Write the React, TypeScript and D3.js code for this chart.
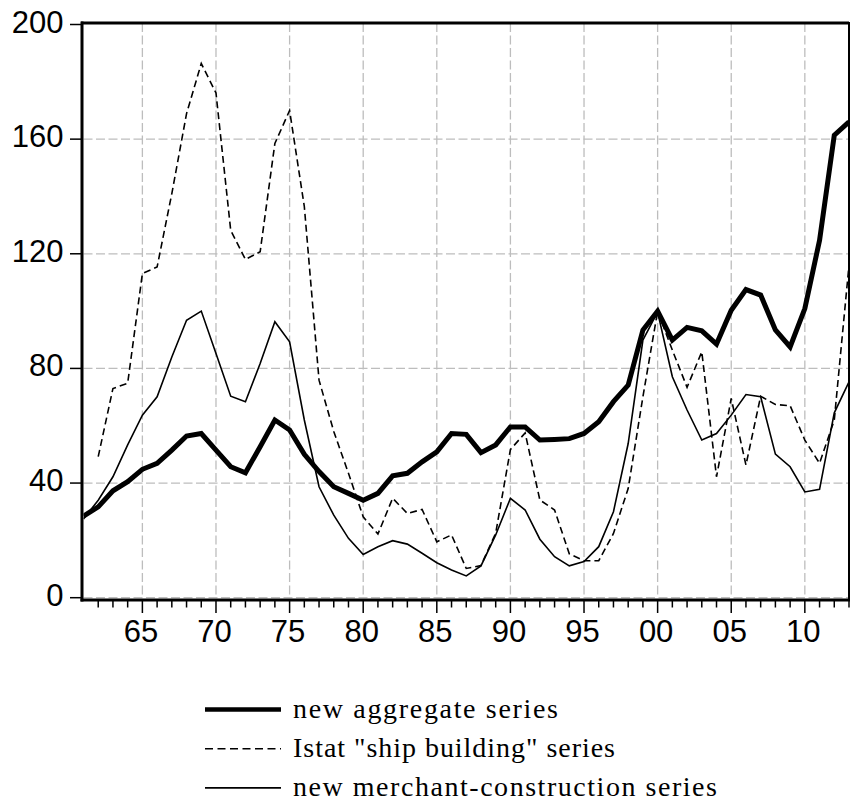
import React from 'react';
import * as d3 from 'd3';

const years = d3.range(1961, 2014);

const aggregate = [
  28.5, 31.7, 37.3, 40.5, 44.8, 46.9, 51.5, 56.4, 57.3, 51.5,
  45.7, 43.6, 52.7, 62, 58.5, 50, 44, 38.7, 36.4, 34,
  36.4, 42.5, 43.4, 47.4, 50.9, 57.3, 57, 50.6, 53.3, 59.6,
  59.6, 55, 55.2, 55.5, 57.3, 61.4, 68.4, 74.2, 93.4, 100,
  89.9, 94.3, 93.1, 88.5, 100.3, 107.5, 105.6, 93.4, 87.5, 100.9,
  124.7, 161.4, 166,
];

const istat: (number | null)[] = [
  null, 49.2, 73, 74.8, 113.1, 115.4, 141, 168.9, 186.4, 176.1,
  128.2, 118, 120.7, 158.5, 170, 136.5, 75.9, 58, 43.4, 28.2,
  22.2, 34.7, 29.4, 30.8, 19.5, 21.9, 10.2, 11.2, 22.5, 51.7,
  57.5, 34.1, 30.6, 15.3, 12.9, 12.9, 22.4, 38.1, 70.1, 100,
  86.4, 73.4, 85.8, 42.2, 69.5, 46.3, 70.3, 67.4, 67, 55,
  46.9, 62, 116,
];

const merchant = [
  27.5, 34, 42.2, 53.3, 63.7, 70.1, 84, 96.8, 100, 85.2,
  70.3, 68.4, 81.7, 96.3, 89.3, 62, 38.7, 28.8, 20.7, 15.1,
  17.8, 19.9, 18.7, 15.5, 12.2, 9.7, 7.6, 11.1, 21.9, 34.7,
  30.6, 20.4, 14.3, 11.1, 12.6, 17.8, 30, 53.8, 89.9, 99.7,
  77.1, 65.5, 55, 57.3, 63.7, 70.9, 70.1, 50.1, 45.7, 36.9,
  37.8, 64.5, 75.3,
];

const yTicks = [0, 40, 80, 120, 160, 200];
const xMajor = [1965, 1970, 1975, 1980, 1985, 1990, 1995, 2000, 2005, 2010];

const legendItems = [
  { label: 'new aggregate series', width: 4.5, dash: null as string | null, textLen: 265 },
  { label: 'Istat "ship building" series', width: 1.6, dash: '8,4.5', textLen: 322 },
  { label: 'new merchant-construction series', width: 1.6, dash: null, textLen: 424 },
];

const App: React.FC = () => {
  const svgRef = React.useRef<SVGSVGElement>(null);

  React.useEffect(() => {
    if (!svgRef.current) return;
    const svg = d3.select(svgRef.current);
    svg.selectAll('*').remove();

    const left = 83.5, right = 849, top = 24.5, bottom = 597.7;

    const x = d3.scaleLinear().domain([1961, 2013]).range([left, right]);
    const y = d3.scaleLinear().domain([0, 200]).range([bottom, top]);

    svg.append('defs').append('clipPath').attr('id', 'plotclip')
      .append('rect').attr('x', left).attr('y', 0).attr('width', right - left).attr('height', 600);

    // grid
    const grid = svg.append('g')
      .attr('stroke', '#bdbdbd').attr('stroke-width', 1.3).attr('stroke-dasharray', '9,3.5');
    grid.selectAll('line.h').data(yTicks.filter(t => t < 200)).join('line')
      .attr('x1', left).attr('x2', right)
      .attr('y1', d => y(d)).attr('y2', d => y(d));
    grid.selectAll('line.v').data(xMajor).join('line')
      .attr('x1', d => x(d)).attr('x2', d => x(d))
      .attr('y1', 23).attr('y2', bottom);

    // series
    const plot = svg.append('g').attr('clip-path', 'url(#plotclip)').attr('fill', 'none').attr('stroke', '#000');
    const line = d3.line<number | null>()
      .defined(d => d != null)
      .x((_, i) => x(years[i]))
      .y(d => y(d as number));

    plot.append('path').datum(istat).attr('d', line)
      .attr('stroke-width', 1.6).attr('stroke-dasharray', '7,4');
    plot.append('path').datum(merchant).attr('d', line)
      .attr('stroke-width', 1.6).attr('stroke-linejoin', 'miter');
    plot.append('path').datum(aggregate).attr('d', line)
      .attr('stroke-width', 5).attr('stroke-linejoin', 'miter');

    // frame
    const frame = svg.append('g').attr('stroke', '#000');
    frame.append('line').attr('x1', 81).attr('x2', right).attr('y1', 23).attr('y2', 23).attr('stroke-width', 3);
    frame.append('line').attr('x1', 82).attr('x2', 82).attr('y1', 21.5).attr('y2', 601.5).attr('stroke-width', 3);
    frame.append('line').attr('x1', right).attr('x2', right).attr('y1', 22).attr('y2', 601).attr('stroke-width', 2);
    frame.append('line').attr('x1', 80.5).attr('x2', right + 1).attr('y1', 600).attr('y2', 600).attr('stroke-width', 3);

    // y ticks
    frame.selectAll('line.yt').data(yTicks).join('line')
      .attr('x1', 70).attr('x2', 82)
      .attr('y1', d => y(d)).attr('y2', d => y(d))
      .attr('stroke-width', 1.5);

    // x ticks
    frame.selectAll('line.xt').data(years.slice(1)).join('line')
      .attr('x1', d => x(d)).attr('x2', d => x(d))
      .attr('y1', 600).attr('y2', d => (d % 5 === 0 ? 613 : 607.5))
      .attr('stroke-width', 1.5);

    const font = '"Liberation Sans", Arial, sans-serif';
    svg.append('g').selectAll('text').data(yTicks).join('text')
      .attr('x', 63.5).attr('y', d => y(d) + 8)
      .attr('text-anchor', 'end')
      .style('font-family', font).style('font-size', '31px')
      .text(d => String(d));

    svg.append('g').selectAll('text').data(xMajor).join('text')
      .attr('x', d => x(d) - 1.5).attr('y', 642)
      .attr('text-anchor', 'middle')
      .style('font-family', font).style('font-size', '31px')
      .text(d => String(d % 100).padStart(2, '0'));

    // legend
    const lg = svg.append('g');
    legendItems.forEach((item, i) => {
      const ly = 709.5 + i * 39.2;
      lg.append('line')
        .attr('x1', 205).attr('x2', 281).attr('y1', ly).attr('y2', ly)
        .attr('stroke', '#000').attr('stroke-width', item.width)
        .attr('stroke-dasharray', item.dash);
      lg.append('text')
        .attr('x', 293).attr('y', ly + 8.5)
        .attr('textLength', item.textLen).attr('lengthAdjust', 'spacing')
        .style('font-family', '"Liberation Serif", "Times New Roman", serif')
        .style('font-size', '28px')
        .text(item.label);
    });
  }, []);

  return (
    <svg ref={svgRef} width={850} height={808} viewBox="0 0 850 808"
      style={{ position: 'absolute', left: 0, top: 0, background: '#fff' }} />
  );
};

export default App;
